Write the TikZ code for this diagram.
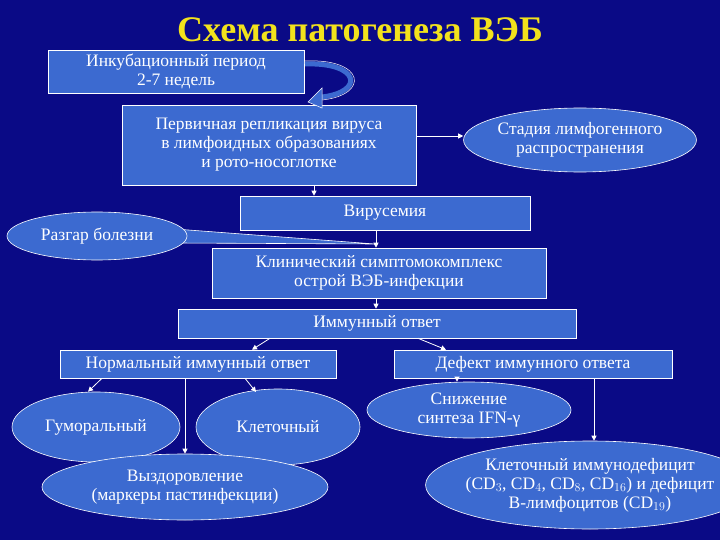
\documentclass[tikz,border=0pt]{standalone}
\usepackage{fontspec}
\setmainfont{Liberation Serif}
\usetikzlibrary{shapes.geometric,arrows.meta}
\definecolor{bg}{HTML}{0A0A86}
\definecolor{bx}{HTML}{3C6AD0}
\definecolor{ttl}{HTML}{F2E21C}
\begin{document}
\begin{tikzpicture}[x=1pt,y=-1pt,
  every node/.style={text=white,font=\fontsize{17.5}{19}\selectfont,align=center,inner sep=0pt},
  rbox/.style={draw=white,fill=bx,line width=0.6pt},
  ell/.style={ellipse,draw=white,fill=bx,line width=0.6pt},
  conn/.style={draw=white,line width=0.8pt,-{Triangle[width=5pt,length=5pt]}}]
\fill[bg] (0,0) rectangle (720,540);
\useasboundingbox (0,0) rectangle (720,540);
\node[text=ttl,font=\bfseries\fontsize{36}{38}\selectfont] (title) at (360,30) {Схема патогенеза ВЭБ};
% boxes
\node[rbox,minimum width=256,minimum height=43] (inc) at (176,71.5) {Инкубационный период\\2-7 недель};
\node[rbox,minimum width=294,minimum height=80] (prim) at (269,145) {Первичная репликация вируса\\в лимфоидных образованиях\\и рото-носоглотке};
\node[ell,minimum width=226,minimum height=64] (stad) at (580,140) {Стадия лимфогенного\\распространения};
\node[rbox,minimum width=290,minimum height=34] (vir) at (385,213) {Вирусемия};
\node[rbox,minimum width=334,minimum height=50] (clin) at (379,273) {Клинический симптомокомплекс\\острой ВЭБ-инфекции};
\node[rbox,minimum width=398,minimum height=29] (imm) at (377,323.5) {Иммунный ответ};
\node[rbox,minimum width=276,minimum height=28] (norm) at (198,364) {Нормальный иммунный ответ};
\node[rbox,minimum width=278,minimum height=28] (def) at (533,364) {Дефект иммунного ответа};
\node[ell,minimum width=168,minimum height=70] (hum) at (96,427) {Гуморальный};
\node[ell,minimum width=164,minimum height=76] (cell) at (278,427) {Клеточный};
\node[ell,minimum width=286,minimum height=66] (rec) at (185,487) {Выздоровление\\(маркеры пастинфекции)};
\node[ell,minimum width=204,minimum height=56] (sniz) at (469,410) {Снижение\\синтеза IFN-γ};
\node[ell,minimum width=318,minimum height=88,inner sep=-8pt] (cid) at (590,485) {Клеточный иммунодефицит\\(CD$_3$, CD$_4$, CD$_8$, CD$_{16}$) и дефицит\\В-лимфоцитов (CD$_{19}$)};
% Razgar callout with tail
\coordinate (tip) at (375,244);
\fill[bx,draw=white,line width=0.6pt] (175,229) -- (tip) -- (177,243) -- cycle;
\node[ell,minimum width=180,minimum height=48] (razg) at (97,236) {Разгар болезни};
% curved arrow
\coordinate (ca1) at (305,64);
\coordinate (ca2) at (308,102);
\draw[bx,line width=5pt] (ca1) .. controls (360,62) and (365,92) .. (322,97);
\draw[white,line width=0.5pt] (305,61) .. controls (365,58) and (370,95) .. (322,100);
\fill[bx,draw=white,line width=0.5pt] (322,88) -- (ca2) -- (322,108) -- cycle;
% connectors
\draw[conn] (prim.east |- 0,136) -- (stad.west |- 0,136);
\draw[conn] (prim.south -| 314,0) -- (vir.north -| 314,0);
\draw[conn] (vir.south -| 376,0) -- (clin.north -| 376,0);
\draw[conn] (clin.south -| 376,0) -- (imm.north -| 376,0);
\draw[conn] (imm.south -| 270,0) -- (norm.north -| 252,0);
\draw[conn] (imm.south -| 418,0) -- (def.north -| 446,0);
\draw[conn] (norm.south -| 102,0) -- (hum.north -| 88,0);
\draw[conn] (norm.south -| 185,0) -- (rec.north -| 185,0);
\draw[conn] (norm.south -| 245,0) -- (256,392);
\draw[conn] (def.south -| 457,0) -- (sniz.north -| 457,0);
\draw[conn] (def.south -| 594,0) -- (cid.north -| 594,0);
\end{tikzpicture}
\end{document}
